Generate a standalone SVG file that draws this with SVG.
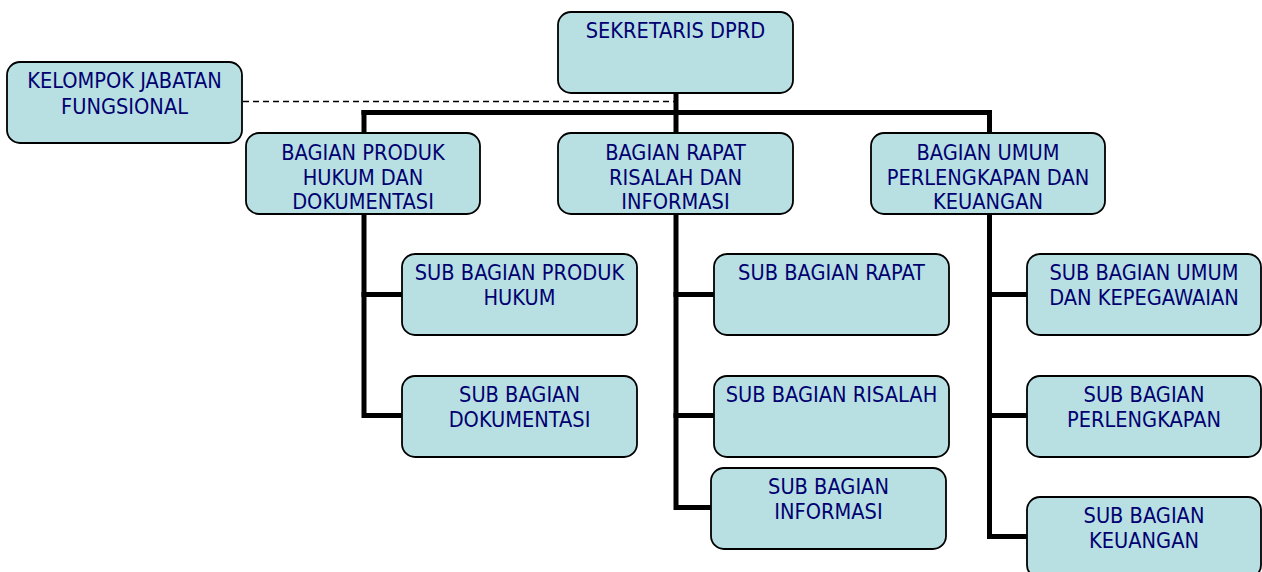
<svg xmlns="http://www.w3.org/2000/svg" width="1262" height="572" viewBox="0 0 1262 572">
<style>
.box{fill:#b8e0e3;stroke:#000;stroke-width:1.8}
.t{font-family:"DejaVu Sans Condensed","DejaVu Sans",sans-serif;font-stretch:condensed;font-size:21.6px;fill:#000070;text-anchor:middle}
.c{stroke:#000;stroke-width:5;fill:none;stroke-linecap:square}
.d{stroke:#000;stroke-width:1.5;fill:none;stroke-dasharray:6 4}
</style>
<rect width="1262" height="572" fill="#fff"/>
<g id="connectors">
<line class="d" x1="243" y1="101.5" x2="676" y2="101.5"/>
<line class="c" x1="676" y1="94" x2="676" y2="132"/>
<line class="c" x1="364" y1="112.5" x2="989.5" y2="112.5"/>
<line class="c" x1="364" y1="112.5" x2="364" y2="132"/>
<line class="c" x1="989.5" y1="112.5" x2="989.5" y2="132"/>
<polyline class="c" points="364,215 364,415.5 401,415.5"/>
<line class="c" x1="364" y1="294.5" x2="401" y2="294.5"/>
<polyline class="c" points="676,215 676,507.5 710,507.5"/>
<line class="c" x1="676" y1="294.5" x2="713" y2="294.5"/>
<line class="c" x1="676" y1="415.5" x2="713" y2="415.5"/>
<polyline class="c" points="989.5,215 989.5,536.5 1026,536.5"/>
<line class="c" x1="989.5" y1="294.5" x2="1026" y2="294.5"/>
<line class="c" x1="989.5" y1="415.5" x2="1026" y2="415.5"/>
</g>
<g id="sekretaris"><rect class="box" x="558" y="12" width="235" height="81" rx="13"/><text class="t" x="675.5" y="38">SEKRETARIS DPRD</text></g>
<g id="kelompok"><rect class="box" x="7" y="62" width="235" height="81" rx="13"/><text class="t" x="124.5" y="88">KELOMPOK JABATAN</text><text class="t" x="124.5" y="114">FUNGSIONAL</text></g>
<g id="bagian-produk"><rect class="box" x="246" y="133" width="234" height="81" rx="13"/><text class="t" x="363" y="159.5">BAGIAN PRODUK</text><text class="t" x="363" y="184.5">HUKUM DAN</text><text class="t" x="363" y="209">DOKUMENTASI</text></g>
<g id="bagian-rapat"><rect class="box" x="558" y="133" width="235" height="81" rx="13"/><text class="t" x="675.5" y="159.5">BAGIAN RAPAT</text><text class="t" x="675.5" y="184.5">RISALAH DAN</text><text class="t" x="675.5" y="209">INFORMASI</text></g>
<g id="bagian-umum"><rect class="box" x="871" y="133" width="234" height="81" rx="13"/><text class="t" x="988" y="159.5">BAGIAN UMUM</text><text class="t" x="988" y="184.5">PERLENGKAPAN DAN</text><text class="t" x="988" y="209">KEUANGAN</text></g>
<g id="sub-produk-hukum"><rect class="box" x="402" y="254" width="235" height="81" rx="13"/><text class="t" x="519.5" y="280">SUB BAGIAN PRODUK</text><text class="t" x="519.5" y="305">HUKUM</text></g>
<g id="sub-dokumentasi"><rect class="box" x="402" y="376" width="235" height="81" rx="13"/><text class="t" x="519.5" y="402">SUB BAGIAN</text><text class="t" x="519.5" y="427">DOKUMENTASI</text></g>
<g id="sub-rapat"><rect class="box" x="714" y="254" width="235" height="81" rx="13"/><text class="t" x="831.5" y="280">SUB BAGIAN RAPAT</text></g>
<g id="sub-risalah"><rect class="box" x="714" y="376" width="235" height="81" rx="13"/><text class="t" x="831.5" y="402">SUB BAGIAN RISALAH</text></g>
<g id="sub-informasi"><rect class="box" x="711" y="468" width="235" height="81" rx="13"/><text class="t" x="828.5" y="494">SUB BAGIAN</text><text class="t" x="828.5" y="519">INFORMASI</text></g>
<g id="sub-umum"><rect class="box" x="1027" y="254" width="234" height="81" rx="13"/><text class="t" x="1144" y="280">SUB BAGIAN UMUM</text><text class="t" x="1144" y="305">DAN KEPEGAWAIAN</text></g>
<g id="sub-perlengkapan"><rect class="box" x="1027" y="376" width="234" height="81" rx="13"/><text class="t" x="1144" y="402">SUB BAGIAN</text><text class="t" x="1144" y="427">PERLENGKAPAN</text></g>
<g id="sub-keuangan"><rect class="box" x="1027" y="497" width="234" height="81" rx="13"/><text class="t" x="1144" y="523">SUB BAGIAN</text><text class="t" x="1144" y="548">KEUANGAN</text></g>
</svg>
